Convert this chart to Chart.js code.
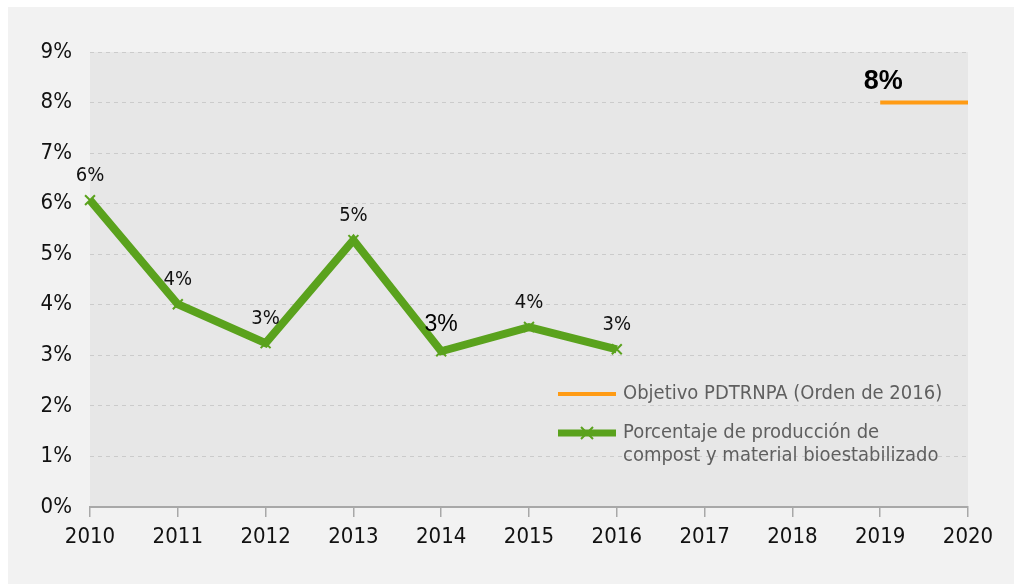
<!DOCTYPE html>
<html>
<head>
<meta charset="utf-8">
<script src="https://cdn.jsdelivr.net/npm/chart.js@4.4.1/dist/chart.umd.min.js"></script>
<style>
  html, body { margin:0; padding:0; background:#ffffff; }
  #wrap { position:absolute; left:8px; top:7px; width:1006px; height:577px; background:#f2f2f2; }
  canvas { display:block; }
</style>
</head>
<body>
<div id="wrap"><canvas id="c" width="1006" height="577"></canvas></div>
<script>
const years = ['2010','2011','2012','2013','2014','2015','2016','2017','2018','2019','2020'];
const compostPct = [6.07, 4.01, 3.24, 5.28, 3.08, 3.56, 3.12, null, null, null, null];
const targetPct = [null, null, null, null, null, null, null, null, null, 8, 8];
const yTicks = [0,1,2,3,4,5,6,7,8,9];
const legendTarget = ['Objetivo PDTRNPA (Orden de 2016)'];
const legendCompost = ['Porcentaje de producción de', 'compost y material bioestabilizado'];

const NARROW = "'Liberation Sans Narrow', 'DejaVu Sans Condensed', sans-serif";
const ARIAL = "'Liberation Sans', Arial, sans-serif";
const GREEN = '#5aa21d';
const ORANGE = '#ff9b14';

const bgPlugin = {
  id: 'bg',
  beforeDraw(chart) {
    const {ctx, chartArea: a} = chart;
    ctx.save();
    ctx.fillStyle = '#e7e7e7';
    ctx.fillRect(a.left, a.top, a.right - a.left, a.bottom - a.top);
    ctx.restore();
  }
};

const labelPlugin = {
  id: 'vlabels',
  afterDatasetsDraw(chart) {
    const ctx = chart.ctx;
    ctx.save();
    ctx.textAlign = 'center';
    ctx.textBaseline = 'middle';
    const m0 = chart.getDatasetMeta(0);
    m0.data.forEach((pt, i) => {
      const v = compostPct[i];
      if (v == null) return;
      if (i === 4) {
        ctx.font = "23px " + ARIAL;
        ctx.fillStyle = '#000';
        ctx.fillText(Math.round(v) + '%', pt.x, pt.y - 27);
      } else {
        ctx.font = "20px " + NARROW;
        ctx.fillStyle = '#111';
        ctx.fillText(Math.round(v) + '%', pt.x, pt.y - 24);
      }
    });
    const m1 = chart.getDatasetMeta(1);
    const p = m1.data[9];
    ctx.font = "bold 27px " + ARIAL;
    ctx.fillStyle = '#000';
    ctx.fillText(Math.round(targetPct[9]) + '%', p.x + 3, p.y - 21);
    ctx.restore();
  }
};

const legendPlugin = {
  id: 'legendInside',
  afterDraw(chart) {
    const ctx = chart.ctx;
    ctx.save();
    const sx = 550, ex = 608, tx = 615;
    let y = 387;
    ctx.strokeStyle = ORANGE; ctx.lineWidth = 4;
    ctx.beginPath(); ctx.moveTo(sx, y); ctx.lineTo(ex, y); ctx.stroke();
    ctx.font = "20px " + NARROW;
    ctx.fillStyle = '#5f5f5f';
    ctx.textAlign = 'left'; ctx.textBaseline = 'middle';
    ctx.fillText(legendTarget[0], tx, y);
    y = 426;
    ctx.strokeStyle = GREEN; ctx.lineWidth = 7;
    ctx.beginPath(); ctx.moveTo(sx, y); ctx.lineTo(ex, y); ctx.stroke();
    const cx = (sx + ex) / 2, r = 6;
    ctx.lineWidth = 2;
    ctx.beginPath();
    ctx.moveTo(cx - r, y - r); ctx.lineTo(cx + r, y + r);
    ctx.moveTo(cx + r, y - r); ctx.lineTo(cx - r, y + r);
    ctx.stroke();
    ctx.fillStyle = '#5f5f5f';
    ctx.fillText(legendCompost[0], tx, y);
    ctx.fillText(legendCompost[1], tx, y + 23);
    ctx.restore();
  }
};

new Chart(document.getElementById('c'), {
  type: 'line',
  data: {
    labels: years,
    datasets: [
      {
        label: 'Porcentaje de producción de compost y material bioestabilizado',
        data: compostPct,
        borderColor: GREEN,
        backgroundColor: GREEN,
        borderWidth: 8,
        pointStyle: 'crossRot',
        pointRadius: 7,
        pointBorderWidth: 2,
        pointBorderColor: GREEN,
        tension: 0,
        spanGaps: false,
        clip: false
      },
      {
        label: 'Objetivo PDTRNPA (Orden de 2016)',
        data: targetPct,
        borderColor: ORANGE,
        backgroundColor: ORANGE,
        borderWidth: 4,
        pointRadius: 0,
        tension: 0,
        borderCapStyle: 'butt'
      }
    ]
  },
  options: {
    responsive: false,
    animation: false,
    devicePixelRatio: 1,
    layout: { padding: { left: 0, right: 46, top: 45, bottom: 0 } },
    plugins: { legend: { display: false }, tooltip: { enabled: false } },
    scales: {
      x: {
        type: 'category',
        offset: false,
        afterFit(s) { s.height = 77; },
        grid: { drawOnChartArea: false, drawTicks: true, tickLength: 10, color: '#a8a8a8', lineWidth: 1.5 },
        border: { display: true, color: '#a8a8a8', width: 2 },
        ticks: { font: { family: NARROW, size: 22 }, color: '#111', padding: 7, maxRotation: 0, autoSkip: false }
      },
      y: {
        min: 0, max: 9,
        afterFit(s) { s.width = 82; },
        afterBuildTicks(s) { s.ticks = yTicks.map(v => ({ value: v })); },
        grid: { color: '#cbcbcb', lineWidth: 1, drawTicks: false },
        border: { display: false, dash: [4, 4] },
        ticks: { font: { family: NARROW, size: 22 }, color: '#111', padding: 18, callback: v => v + '%' }
      }
    }
  },
  plugins: [bgPlugin, labelPlugin, legendPlugin]
});
</script>
</body>
</html>
